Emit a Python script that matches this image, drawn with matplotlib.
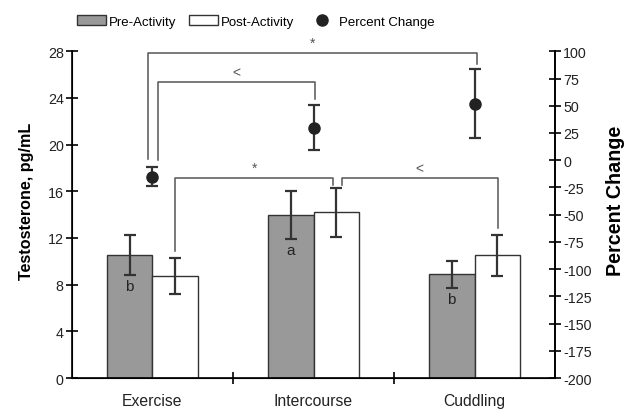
import matplotlib.pyplot as plt
from matplotlib.lines import Line2D
import numpy as np

plt.rcParams['font.family'] = ['Liberation Sans', 'DejaVu Sans']
plt.rcParams['axes.unicode_minus'] = False

# data
activities = ["Exercise", "Intercourse", "Cuddling"]
pre_mean = [10.55, 14.0, 8.9]
pre_err = [1.7, 2.05, 1.15]
post_mean = [8.75, 14.2, 10.5]
post_err = [1.55, 2.1, 1.73]
pct_mean = [-15, 30, 52]
pct_err = [9, 21, 32]
pre_letters = ["b", "a", "b"]

# significance brackets: (x0, x1, y, left leg bottom, right leg bottom, mark)
brackets = [
    (-0.026, 2.014, 27.85, 18.77, 26.9, "*"),
    (0.032, 1.009, 25.34, 18.7, 23.9, "<"),
    (0.14, 1.123, 17.11, 10.9, 16.54, "*"),
    (1.175, 2.144, 17.11, 16.54, 12.83, "<"),
]

edge = "#333333"
x = np.arange(len(activities))
w = 0.285

fig = plt.figure(figsize=(6.32, 4.1), dpi=100)
ax = fig.add_axes([0.1139, 0.0756, 0.7643, 0.7968])

ax.bar(x - w / 2, pre_mean, w, color="#999999", edgecolor=edge, linewidth=1, label="Pre-Activity", zorder=2)
ax.bar(x + w / 2, post_mean, w, color="white", edgecolor=edge, linewidth=1, label="Post-Activity", zorder=2)
ax.errorbar(x - w / 2, pre_mean, yerr=pre_err, fmt="none", ecolor=edge, elinewidth=1.6, capsize=4, capthick=1.6, zorder=3)
ax.errorbar(x + w / 2, post_mean, yerr=post_err, fmt="none", ecolor=edge, elinewidth=1.6, capsize=4, capthick=1.6, zorder=3)

for i, lt in enumerate(pre_letters):
    ax.text(x[i] - w / 2, pre_mean[i] - pre_err[i] - 1.0, lt, ha="center", va="center", fontsize=11, color="#222222", zorder=4)

for x0, x1, yb, l0, l1, mark in brackets:
    ax.plot([x0, x0, x1, x1], [l0, yb, yb, l1], color="#555555", lw=1.1, zorder=1)
    fs = 10 if mark == "*" else 10
    ax.text((x0 + x1) / 2, yb + 0.3, mark, ha="center", va="bottom", fontsize=fs, color="#555555")

ax.set_xlim(-0.5, 2.5)
ax.set_ylim(0, 28)
ax.set_yticks(np.arange(0, 29, 4))
ax.set_xticks([0.5, 1.5])
ax.set_xticklabels([])
ax.set_xticks(x, minor=True)
ax.set_xticklabels(activities, minor=True)
ax.tick_params(axis="x", which="minor", length=0, pad=11, labelsize=11.3, labelcolor="#222222")
ax.tick_params(axis="x", which="major", direction="inout", length=8, width=1.2)
ax.tick_params(axis="y", direction="inout", length=8, width=1.2, labelsize=10.3, pad=2, labelcolor="#222222")
ax.spines["top"].set_visible(False)
for s in ["left", "bottom", "right"]:
    ax.spines[s].set_linewidth(1.2)
ax.set_ylabel("Testosterone, pg/mL", fontsize=11.6, fontweight="bold")
ax.yaxis.set_label_coords(-0.079, 0.545)

ax2 = ax.twinx()
ax2.errorbar(x, pct_mean, yerr=pct_err, fmt="o", color="#222222", ms=8, ecolor=edge, elinewidth=1.6,
             capsize=4, capthick=1.6, zorder=5)
ax2.set_ylim(-200, 100)
ax2.set_yticks(np.arange(-200, 101, 25))
ax2.tick_params(axis="y", direction="inout", length=8, width=1.2, labelsize=10.3, pad=2, labelcolor="#222222")
ax2.spines["top"].set_visible(False)
ax2.spines["right"].set_linewidth(1.2)
ax2.set_ylabel("Percent Change", fontsize=14.2, fontweight="bold")
ax2.yaxis.set_label_coords(1.106, 0.545)

h1, l1 = ax.get_legend_handles_labels()
dot = Line2D([], [], marker="o", ls="none", color="#222222", ms=8)
fig.legend(h1 + [dot], l1 + ["Percent Change"], loc="center", bbox_to_anchor=(0.405, 0.945), ncol=3, frameon=False,
           fontsize=9.5, handlelength=2.2, handleheight=0.8, handletextpad=0.2, columnspacing=1.0)

fig.savefig("out.png", dpi=100)
